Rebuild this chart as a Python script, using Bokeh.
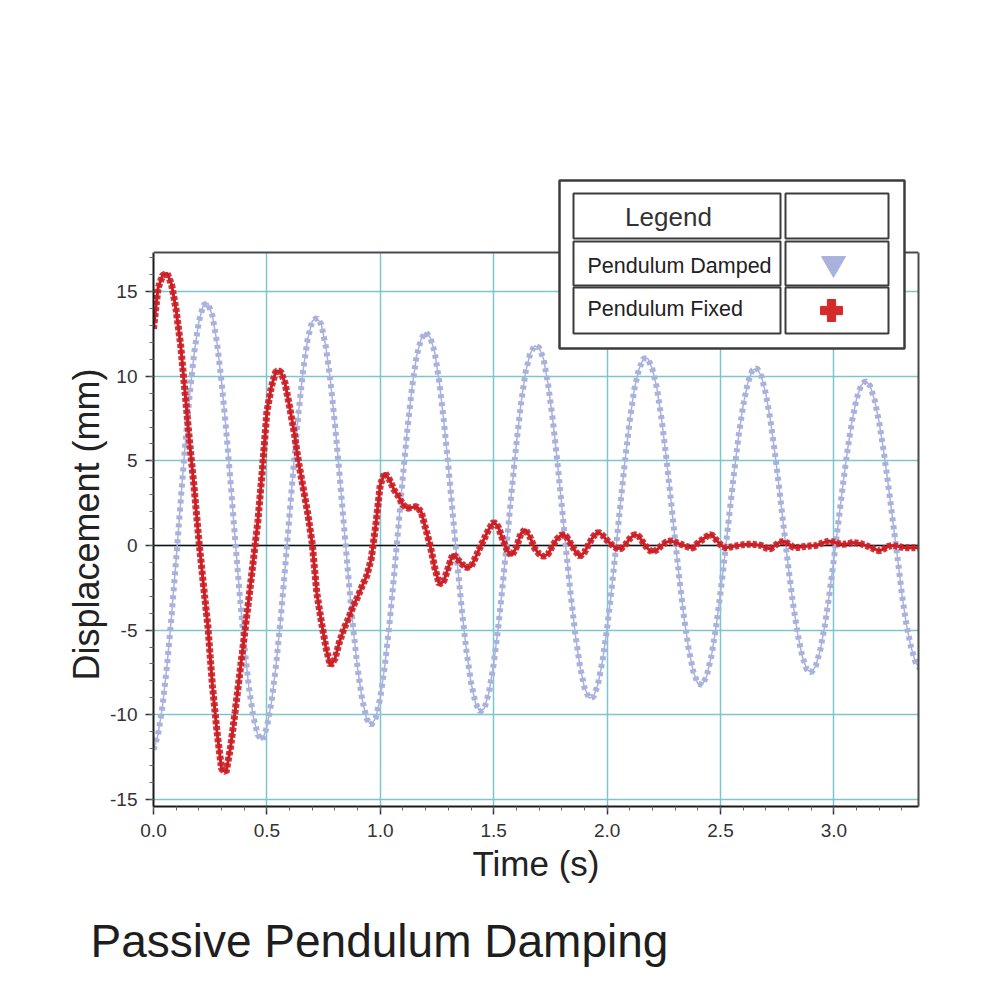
from bokeh.plotting import figure
from bokeh.models import (FixedTicker, BoxAnnotation, Label, Span, Title, Range1d,
                          NumeralTickFormatter, LinearAxis)
from bokeh.embed import file_html
from bokeh.resources import INLINE

# ---------------- data ----------------
series_names = ["Pendulum Damped", "Pendulum Fixed"]

time_s = [
    0.00, 0.02, 0.04, 0.06, 0.08, 0.10, 0.12, 0.14, 0.16, 0.18,
    0.20, 0.22, 0.24, 0.26, 0.28, 0.30, 0.32, 0.34, 0.36, 0.38,
    0.40, 0.42, 0.44, 0.46, 0.48, 0.50, 0.52, 0.54, 0.56, 0.58,
    0.60, 0.62, 0.64, 0.66, 0.68, 0.70, 0.72, 0.74, 0.76, 0.78,
    0.80, 0.82, 0.84, 0.86, 0.88, 0.90, 0.92, 0.94, 0.96, 0.98,
    1.00, 1.02, 1.04, 1.06, 1.08, 1.10, 1.12, 1.14, 1.16, 1.18,
    1.20, 1.22, 1.24, 1.26, 1.28, 1.30, 1.32, 1.34, 1.36, 1.38,
    1.40, 1.42, 1.44, 1.46, 1.48, 1.50, 1.52, 1.54, 1.56, 1.58,
    1.60, 1.62, 1.64, 1.66, 1.68, 1.70, 1.72, 1.74, 1.76, 1.78,
    1.80, 1.82, 1.84, 1.86, 1.88, 1.90, 1.92, 1.94, 1.96, 1.98,
    2.00, 2.02, 2.04, 2.06, 2.08, 2.10, 2.12, 2.14, 2.16, 2.18,
    2.20, 2.22, 2.24, 2.26, 2.28, 2.30, 2.32, 2.34, 2.36, 2.38,
    2.40, 2.42, 2.44, 2.46, 2.48, 2.50, 2.52, 2.54, 2.56, 2.58,
    2.60, 2.62, 2.64, 2.66, 2.68, 2.70, 2.72, 2.74, 2.76, 2.78,
    2.80, 2.82, 2.84, 2.86, 2.88, 2.90, 2.92, 2.94, 2.96, 2.98,
    3.00, 3.02, 3.04, 3.06, 3.08, 3.10, 3.12, 3.14, 3.16, 3.18,
    3.20, 3.22, 3.24, 3.26, 3.28, 3.30, 3.32, 3.34, 3.36, 3.38,
]

damped_mm = [
    -12.06, -11.18, -9.47, -7.05, -4.09, -0.78, 2.65, 5.98, 8.98, 11.45,
    13.23, 14.21, 14.32, 13.56, 11.98, 9.70, 6.88, 3.69, 0.36, -2.89,
    -5.84, -8.31, -10.12, -11.2, -11.5, -10.72, -9.27, -7.13, -4.44, -1.38,
    1.85, 5.02, 7.93, 10.38, 12.21, 13.25, 13.45, 13.06, 11.74, 9.74,
    7.18, 4.24, 1.12, -1.97, -4.83, -7.26, -9.10, -10.25, -10.61, -10.18,
    -8.99, -7.11, -4.69, -1.87, 1.13, 4.14, 6.94, 9.34, 11.20, 12.2,
    12.6, 12.3, 11.42, 9.67, 7.38, 4.69, 1.79, -1.13, -3.86, -6.24,
    -8.10, -9.32, -9.83, -9.59, -8.63, -7.00, -4.84, -2.28, 0.51, 3.33,
    6.00, 8.35, 10.20, 11.3, 11.8, 11.7, 11.02, 9.52, 7.48, 5.04,
    2.37, -0.36, -2.96, -5.26, -7.11, -8.39, -9.01, -8.94, -8.19, -6.81,
    -4.89, -2.58, -0.02, 2.61, 5.14, 7.39, 9.23, 10.4, 11.05, 11.05,
    10.4, 9.28, 7.49, 5.30, 2.85, 0.32, -2.13, -4.33, -6.15, -7.45,
    -8.17, -8.24, -7.68, -6.53, -4.86, -2.79, -0.46, 1.97, 4.34, 6.49,
    8.28, 9.59, 10.34, 10.48, 10.01, 8.96, 7.41, 5.46, 3.25, 0.92,
    -1.37, -3.46, -5.21, -6.53, -7.31, -7.51, -7.12, -6.17, -4.73, -2.90,
    -0.81, 1.41, 3.61, 5.64, 7.36, 8.67, 9.47, 9.73, 9.42, 8.57,
    7.24, 5.53, 3.55, 1.43, -0.68, -2.9, -4.7, -6.0, -6.9, -7.3,
]

fixed_mm = [
    12.8, 15.2, 15.95, 16.1, 15.4, 13.9, 11.8, 8.9, 6.0, 3.3,
    0.3, -2.3, -4.8, -8.3, -11.0, -13.2, -13.4, -11.9, -9.8, -7.6,
    -5.4, -3.2, -0.9, 1.4, 4.5, 7.9, 9.4, 10.3, 10.3, 9.6,
    8.2, 6.7, 4.9, 3.4, 1.9, 0.1, -2.8, -4.5, -6.0, -7.1,
    -6.7, -5.7, -4.9, -4.3, -3.6, -3.05, -2.4, -1.8, -0.8, 1.2,
    3.6, 4.3, 3.9, 3.3, 2.9, 2.4, 2.2, 2.25, 2.3, 2.0,
    1.0, 0.0, -1.3, -2.3, -2.1, -1.3, -0.5, -0.8, -1.1, -1.3,
    -1.25, -0.7, -0.1, 0.45, 1.0, 1.4, 1.1, 0.35, -0.3, -0.6,
    -0.1, 0.7, 0.95, 0.5, -0.15, -0.5, -0.65, -0.5, 0.0, 0.4,
    0.65, 0.55, 0.1, -0.35, -0.65, -0.4, 0.1, 0.55, 0.8, 0.6,
    0.3, 0.05, -0.15, -0.2, 0.05, 0.4, 0.65, 0.55, 0.15, -0.2,
    -0.4, -0.25, 0.0, 0.2, 0.27, 0.2, 0.1, 0.0, -0.1, -0.15,
    0.15, 0.35, 0.55, 0.65, 0.35, 0.05, -0.13, -0.1, -0.05, 0.0,
    0.05, 0.07, 0.07, 0.05, 0.0, -0.15, -0.2, 0.0, 0.2, 0.25,
    0.1, -0.1, -0.12, -0.08, -0.05, -0.02, 0.0, 0.1, 0.2, 0.27,
    0.2, 0.12, 0.07, 0.1, 0.17, 0.15, 0.1, 0.0, -0.1, -0.22,
    -0.32, -0.2, -0.05, 0.0, -0.05, -0.1, -0.13, -0.13, -0.13, -0.13,
]

x_major_ticks = [0.0, 0.5, 1.0, 1.5, 2.0, 2.5, 3.0]
y_major_ticks = [-15, -10, -5, 0, 5, 10, 15]

title_text = "Passive Pendulum Damping"
x_label = "Time (s)"
y_label = "Displacement (mm)"
legend_header = "Legend"

# ---------------- layout / style ----------------
FONT = "Liberation Sans"
BLUE = "#a9b2dc"
RED = "#cc1f26"
GRID = "#7cc5cf"
FRAME_LINE = "#4a4a4a"

W, H = 990, 996
# the frame reaches up to FRAME_TOP so the table legend can stick out above the plot box
FRAME_LEFT, FRAME_TOP, PLOT_TOP, FRAME_RIGHT, FRAME_BOTTOM = 153, 160, 252, 918, 806
X0, X1 = 0.0, 3.373
Y0, Y_VIS_TOP = -15.42, 17.31
Y1 = Y_VIS_TOP + (PLOT_TOP - FRAME_TOP) * (Y_VIS_TOP - Y0) / (FRAME_BOTTOM - PLOT_TOP)
Y_LABEL_BOTTOM = 680   # canvas pixel where the vertical y label starts

p = figure(width=W, height=H, output_backend="svg", toolbar_location=None,
           x_range=Range1d(X0, X1), y_range=Range1d(Y0, Y1),
           min_border_left=FRAME_LEFT, min_border_top=FRAME_TOP,
           min_border_right=W - FRAME_RIGHT, min_border_bottom=H - FRAME_BOTTOM,
           background_fill_color="white", border_fill_color="white")
p.outline_line_color = None

x_ticker = FixedTicker(ticks=x_major_ticks, minor_ticks=[i / 10 for i in range(0, 34)])
y_ticker = FixedTicker(ticks=y_major_ticks, minor_ticks=list(range(-15, 18)))
p.xaxis.ticker = x_ticker
p.yaxis.ticker = y_ticker
p.xaxis.formatter = NumeralTickFormatter(format="0.0")
p.yaxis.formatter = NumeralTickFormatter(format="0")
p.xaxis.axis_label = x_label
p.yaxis.bounds = (Y0, Y_VIS_TOP)

for ax in (p.xaxis[0], p.yaxis[0]):
    ax.axis_line_color = "#1a1a1a"
    ax.axis_line_width = 2
    ax.major_tick_line_color = "#333333"
    ax.major_tick_line_width = 1.5
    ax.major_tick_out = 8
    ax.major_tick_in = 0
    ax.minor_tick_line_color = "#666666"
    ax.minor_tick_line_width = 1
    ax.minor_tick_out = 4
    ax.minor_tick_in = 0
    ax.major_label_text_font = FONT
    ax.major_label_text_font_size = "19px"
    ax.major_label_text_color = "#333333"
    ax.axis_label_text_font = FONT
    ax.axis_label_text_font_style = "normal"
    ax.axis_label_text_color = "#222222"
p.xaxis.major_label_standoff = 9
p.yaxis.major_label_standoff = 8
p.xaxis.axis_label_text_font_size = "35px"
p.xaxis.axis_label_standoff = 4

# vertical axis title, anchored at its lower end so it sits on the plot box, not the taller frame
p.add_layout(Title(text=y_label, align="left", offset=FRAME_BOTTOM - Y_LABEL_BOTTOM,
                   vertical_align="middle", standoff=0, text_font=FONT,
                   text_font_size="36px", text_font_style="normal",
                   text_color="#222222"), "left")

# right border of the plot box
right_border = LinearAxis(ticker=FixedTicker(ticks=[]), bounds=(Y0, Y_VIS_TOP),
                          axis_line_color=FRAME_LINE, axis_line_width=2,
                          major_tick_line_color=None, minor_tick_line_color=None,
                          major_label_text_font_size="0px")
p.add_layout(right_border, "right")

p.grid.grid_line_color = GRID
p.grid.grid_line_width = 1.5
if "cross_bounds" in p.xgrid[0].properties():
    p.xgrid[0].cross_bounds = (Y0, Y_VIS_TOP)

p.add_layout(Span(location=0, dimension="width", line_color="#111111",
                  line_width=1.5, level="underlay"))

# damped pendulum: thin line + bead-like dashes
p.line(time_s, damped_mm, line_color=BLUE, line_width=1.5)
p.line(time_s, damped_mm, line_color=BLUE, line_width=6, line_dash="4 4")
# fixed pendulum
p.line(time_s, fixed_mm, line_color=RED, line_width=3)
p.line(time_s, fixed_mm, line_color=RED, line_width=7, line_dash="4 2", line_alpha=0.9)

# white band above the plot box, then its top border
p.add_layout(BoxAnnotation(bottom=Y_VIS_TOP, top=Y1 + 1, fill_color="white", fill_alpha=1.0,
                           line_color="white", line_width=3, level="annotation"))
p.add_layout(Span(location=Y_VIS_TOP, dimension="width", line_color=FRAME_LINE,
                  line_width=2, level="annotation"))

# ---------------- custom table legend (positions in canvas pixels) ----------------
def dx(px):
    return X0 + (px - FRAME_LEFT) / (FRAME_RIGHT - FRAME_LEFT) * (X1 - X0)

def dy(py):
    return Y1 - (py - FRAME_TOP) / (FRAME_BOTTOM - FRAME_TOP) * (Y1 - Y0)

def box(l, t, r, b, fill=None, lw=2.0):
    return BoxAnnotation(left=dx(l), right=dx(r), top=dy(t), bottom=dy(b),
                         fill_color=fill if fill else "white",
                         fill_alpha=1.0 if fill else 0.0,
                         line_color="#3c3c3c", line_width=lw, line_alpha=1.0,
                         level="annotation")

p.add_layout(box(559, 180, 904, 348, fill="white", lw=2.5))
cols = [(573, 780), (785, 888)]
rows = [(193, 238), (241, 285), (287, 333)]
for (t, b) in rows:
    for (l, r) in cols:
        p.add_layout(box(l, t, r, b))

p.add_layout(Label(x=dx(668), y=dy(216), text=legend_header, text_font=FONT,
                   text_font_size="26px", text_color="#333333",
                   text_align="center", text_baseline="middle"))
p.add_layout(Label(x=dx(587), y=dy(265), text=series_names[0], text_font=FONT,
                   text_font_size="21.5px", text_color="#222222",
                   text_align="left", text_baseline="middle"))
p.add_layout(Label(x=dx(587), y=dy(308), text=series_names[1], text_font=FONT,
                   text_font_size="21.5px", text_color="#222222",
                   text_align="left", text_baseline="middle"))
p.scatter([dx(833)], [dy(263)], marker="inverted_triangle", size=24,
          fill_color=BLUE, line_color=BLUE, level="overlay")
p.scatter([dx(831)], [dy(310)], marker="plus", size=22,
          fill_color="#d42a2a", line_color="#d42a2a", level="overlay")

p.add_layout(Title(text=title_text, align="left", text_font=FONT,
                   text_font_size="46px", text_font_style="normal",
                   text_color="#1e1e1e", offset=-63, standoff=55), "below")

open("out.html", "w").write(file_html(p, INLINE))
